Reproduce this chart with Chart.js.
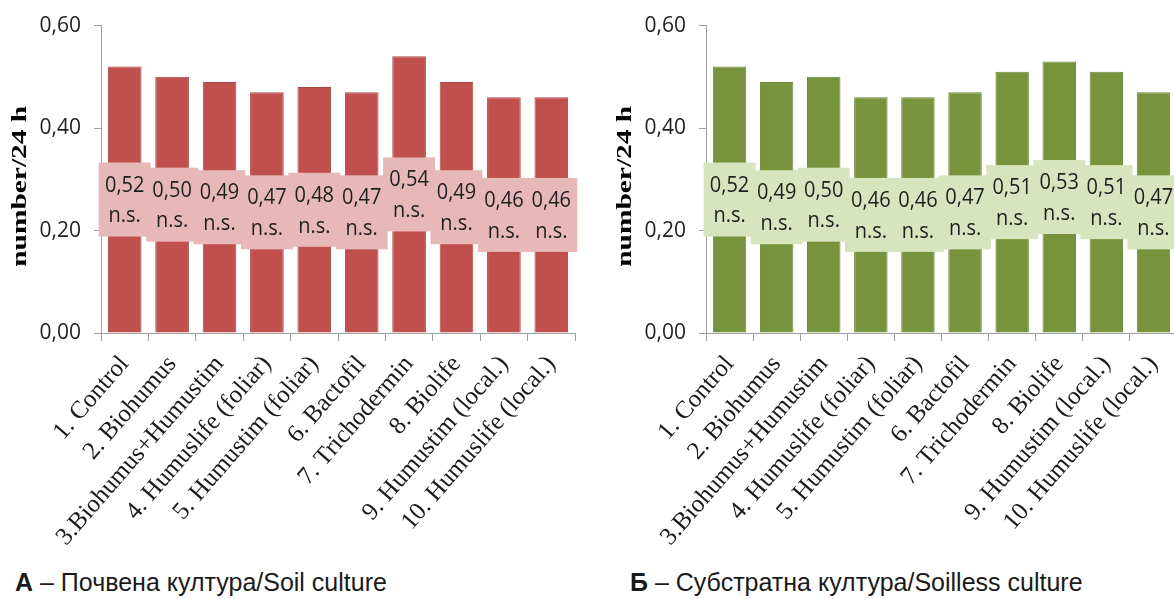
<!DOCTYPE html>
<html>
<head>
<meta charset="utf-8">
<script src="https://cdn.jsdelivr.net/npm/chart.js@4.4.0/dist/chart.umd.min.js"></script>
<style>
  body { margin:0; background:#fff; width:1174px; height:599px; overflow:hidden; position:relative; }
  .wrap { position:absolute; top:0; height:560px; }
  #wa { left:0; width:590px; }
  #wb { left:605px; width:587px; }
  .cap { position:absolute; top:567px; font-family:"Liberation Sans", Arial, sans-serif; font-size:25px; color:#1a1a1a; white-space:nowrap; transform:scaleY(1.05); transform-origin:left top; }
</style>
</head>
<body>
<div class="wrap" id="wa"><canvas id="soil"></canvas></div>
<div class="wrap" id="wb"><canvas id="soilless"></canvas></div>
<div class="cap" style="left:15px"><b>А</b> – Почвена култура/Soil culture</div>
<div class="cap" style="left:630px"><b>Б</b> – Субстратна култура/Soilless culture</div>
<script>
// treatments, same for both panels
const categories = ['1. Control', '2. Biohumus', '3.Biohumus+Humustim', '4. Humuslife (foliar)',
  '5. Humustim (foliar)', '6. Bactofil', '7. Trichodermin', '8. Biolife',
  '9. Humustim (local.)', '10. Humuslife (local.)'];
const soilValues     = [0.52, 0.50, 0.49, 0.47, 0.48, 0.47, 0.54, 0.49, 0.46, 0.46];
const soillessValues = [0.52, 0.49, 0.50, 0.46, 0.46, 0.47, 0.51, 0.53, 0.51, 0.47];
const soilSig     = ['n.s.', 'n.s.', 'n.s.', 'n.s.', 'n.s.', 'n.s.', 'n.s.', 'n.s.', 'n.s.', 'n.s.'];
const soillessSig = ['n.s.', 'n.s.', 'n.s.', 'n.s.', 'n.s.', 'n.s.', 'n.s.', 'n.s.', 'n.s.', 'n.s.'];
const yMin = 0, yMax = 0.6, yStep = 0.2;
const yTitle = 'number/24 h';

const fmt = v => v.toFixed(2).replace('.', ',');

// value + significance in a shaded box at the middle of each bar
const boxLabels = {
  id: 'boxLabels',
  afterDatasetsDraw(chart, args, opts) {
    const ctx = chart.ctx;
    const meta = chart.getDatasetMeta(0);
    const vals = chart.data.datasets[0].data;
    ctx.save();
    meta.data.forEach((bar, i) => {
      const cy = (bar.y + bar.base) / 2;
      ctx.fillStyle = opts.fill;
      ctx.fillRect(bar.x - 26, cy - 37, 52, 74);
    });
    ctx.fillStyle = '#1e1e1e';
    ctx.font = '20px "Open Sans", sans-serif';
    ctx.textAlign = 'center';
    ctx.textBaseline = 'middle';
    meta.data.forEach((bar, i) => {
      const cy = (bar.y + bar.base) / 2;
      ctx.save();
      ctx.translate(bar.x, cy);
      ctx.scale(1, 1.1);
      ctx.fillText(fmt(vals[i]), 0, -13);
      ctx.fillText(opts.sig[i], 0, 15);
      ctx.restore();
    });
    ctx.restore();
  }
};

// tall bold serif axis title
const yTitlePlugin = {
  id: 'yTitleDraw',
  afterDraw(chart) {
    const ctx = chart.ctx, a = chart.chartArea;
    ctx.save();
    ctx.translate(21, (a.top + a.bottom) / 2 + 7);
    ctx.rotate(-Math.PI / 2);
    ctx.scale(1.4, 1);
    ctx.font = 'bold 21px "Liberation Serif", "Times New Roman", serif';
    ctx.fillStyle = '#000';
    ctx.textAlign = 'center';
    ctx.textBaseline = 'middle';
    ctx.fillText(yTitle, 0, 0);
    ctx.restore();
  }
};

const makeChart = (id, values, sig, barColor, edgeColor, boxColor) => {
  const ctx = document.getElementById(id).getContext('2d');
  return new Chart(ctx, {
    type: 'bar',
    data: {
      labels: categories,
      datasets: [{ data: values, backgroundColor: barColor, borderColor: edgeColor, borderWidth: 1,
        categoryPercentage: 1, barPercentage: 0.71 }]
    },
    options: {
      responsive: true, maintainAspectRatio: false, animation: false,
      layout: { padding: { top: 25, right: 15, left: 0, bottom: 0 } },
      plugins: { legend: { display: false }, tooltip: { enabled: false }, boxLabels: { fill: boxColor, sig: sig } },
      scales: {
        x: {
          grid: { drawOnChartArea: false, tickLength: 8, color: '#a0a0a0' },
          border: { color: '#a0a0a0' },
          ticks: { autoSkip: false, minRotation: 49, maxRotation: 49, padding: 9, color: '#1a1a1a',
            font: { family: '"Liberation Serif", "Times New Roman", serif', size: 25 } },
          afterFit: s => { s.height = 227; }
        },
        y: {
          min: yMin, max: yMax,
          grid: { drawOnChartArea: false, tickLength: 7, color: '#a0a0a0' },
          border: { color: '#a0a0a0' },
          ticks: { stepSize: yStep, padding: 13, color: '#222', callback: v => fmt(v),
            font: { family: '"Open Sans", sans-serif', size: 21 } },
          afterFit: s => { s.width = 101; }
        }
      }
    },
    plugins: [boxLabels, yTitlePlugin]
  });
};

makeChart('soil', soilValues, soilSig, '#c0504d', '#a94542', '#e6b9b8');
makeChart('soilless', soillessValues, soillessSig, '#77933c', '#6a8535', '#d7e4bd');
</script>
</body>
</html>
